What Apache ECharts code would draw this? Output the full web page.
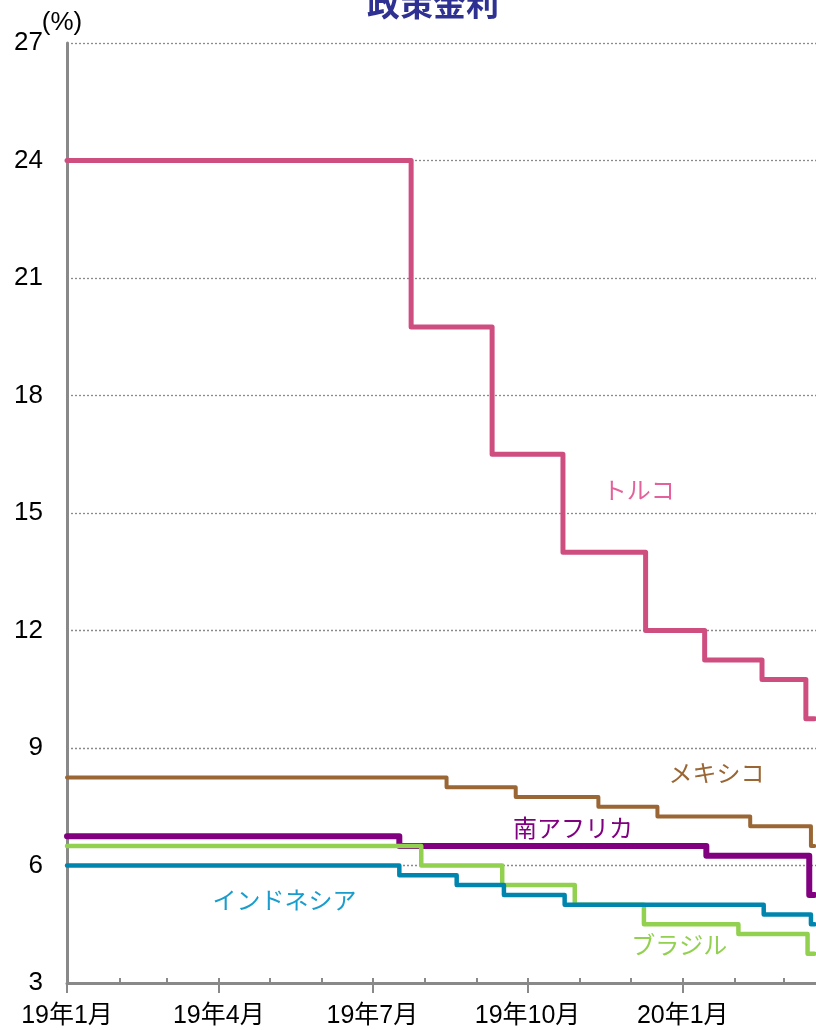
<!DOCTYPE html>
<html>
<head>
<meta charset="utf-8">
<script src="https://cdn.jsdelivr.net/npm/echarts@6/dist/echarts.min.js"></script>
<style>
  html, body { margin: 0; padding: 0; background: #fff; }
  #policy-rate { width: 816px; height: 1030px; }
</style>
</head>
<body>
<div id="policy-rate"></div>
<script>
// 政策金利（新興国）: 値が変わった日付とその日からの金利
const startDate = '2019-01-01';
const lastDate = '2020-03-19';
const axisEndDate = '2020-03-20';

const turkeyDates = ['2019-01-01', '2019-07-24', '2019-09-10', '2019-10-22', '2019-12-10', '2020-01-14', '2020-02-17', '2020-03-14'];
const turkeyRates = [24, 19.75, 16.5, 14, 12, 11.25, 10.75, 9.75];

const mexicoDates = ['2019-01-01', '2019-08-14', '2019-09-24', '2019-11-12', '2019-12-17', '2020-02-10', '2020-03-17'];
const mexicoRates = [8.25, 8.0, 7.75, 7.5, 7.25, 7.0, 6.5];

const safricaDates = ['2019-01-01', '2019-07-17', '2020-01-15', '2020-03-16'];
const safricaRates = [6.75, 6.5, 6.25, 5.25];

const brazilDates = ['2019-01-01', '2019-07-30', '2019-09-16', '2019-10-29', '2019-12-09', '2020-02-03', '2020-03-15'];
const brazilRates = [6.5, 6.0, 5.5, 5.0, 4.5, 4.25, 3.75];

const indonesiaDates = ['2019-01-01', '2019-07-17', '2019-08-20', '2019-09-17', '2019-10-23', '2020-02-18', '2020-03-17'];
const indonesiaRates = [6.0, 5.75, 5.5, 5.25, 5.0, 4.75, 4.5];

const tickDates = ['2019-01-01', '2019-04-01', '2019-07-01', '2019-10-01', '2020-01-01'];
const tickLabels = ['19年1月', '19年4月', '19年7月', '19年10月', '20年1月'];

const yTicks = [3, 6, 9, 12, 15, 18, 21, 24, 27];

// 2019/1/1 からの日数
const dayOf = (s) => {
  const [y, m, d] = s.split('-').map(Number);
  return (Date.UTC(y, m - 1, d) - Date.UTC(2019, 0, 1)) / 86400000;
};

const toSteps = (dates, rates) => {
  const pts = dates.map((d, i) => [dayOf(d), rates[i]]);
  pts.push([dayOf(lastDate), rates[rates.length - 1]]);
  return pts;
};

// 月初の目盛り
const monthTicks = [];
for (let m = 0; m <= 14; m++) {
  monthTicks.push((Date.UTC(2019, m, 1) - Date.UTC(2019, 0, 1)) / 86400000);
}
const quarterTicks = tickDates.map(dayOf);

const countries = [
  {name: 'トルコ', data: toSteps(turkeyDates, turkeyRates), color: '#CE4E80', label: '#E4629B', width: 5},
  {name: 'メキシコ', data: toSteps(mexicoDates, mexicoRates), color: '#9A6634', label: '#9A6634', width: 4},
  {name: '南アフリカ', data: toSteps(safricaDates, safricaRates), color: '#800080', label: '#800080', width: 6},
  {name: 'ブラジル', data: toSteps(brazilDates, brazilRates), color: '#92D050', label: '#92D050', width: 4.5},
  {name: 'インドネシア', data: toSteps(indonesiaDates, indonesiaRates), color: '#0086AE', label: '#1A9DCC', width: 4.5},
];

// ラベルの置き場所（日数, 金利）
const labelAnchors = {
  'トルコ': [339, 15.6],
  'メキシコ': [385, 8.36],
  '南アフリカ': [300, 6.96],
  'ブラジル': [363, 3.97],
  'インドネシア': [129, 5.12],
};

const axisGray = '#898989';
const cjkFont = '"Liberation Sans", "Noto Sans CJK JP", sans-serif';

const myChart = echarts.init(document.getElementById('policy-rate'));
const option = {
  animation: false,
  grid: {left: 67, right: 0, top: 43, bottom: 47},
  xAxis: [
    {
      type: 'value',
      min: 0,
      max: dayOf(axisEndDate),
      axisLine: {show: true, onZero: false, lineStyle: {color: axisGray, width: 3}},
      axisTick: {show: true, inside: true, length: 5, customValues: monthTicks, lineStyle: {color: axisGray, width: 2}},
      axisLabel: {
        show: true,
        customValues: quarterTicks,
        margin: 21,
        fontSize: 25,
        fontFamily: cjkFont,
        color: '#000',
        formatter: (v) => tickLabels[quarterTicks.indexOf(v)] || '',
      },
      splitLine: {show: false},
    },
    {
      type: 'value',
      position: 'bottom',
      min: 0,
      max: dayOf(axisEndDate),
      axisLine: {show: false, onZero: false},
      axisTick: {show: true, inside: false, length: 10, customValues: quarterTicks, lineStyle: {color: axisGray, width: 2}},
      axisLabel: {show: false},
      splitLine: {show: false},
    },
  ],
  yAxis: {
    type: 'value',
    min: yTicks[0],
    max: yTicks[yTicks.length - 1],
    interval: 3,
    axisLine: {show: true, lineStyle: {color: axisGray, width: 3}},
    axisTick: {show: false},
    axisLabel: {margin: 24, fontSize: 26, fontFamily: '"Liberation Sans", Arial, sans-serif', color: '#000'},
    splitLine: {show: true, lineStyle: {color: '#8a8a8a', width: 1.3, type: [2, 2]}},
  },
  series: countries.map((c) => ({
    name: c.name,
    type: 'line',
    step: 'end',
    xAxisIndex: 0,
    showSymbol: false,
    symbol: 'none',
    data: c.data,
    lineStyle: {color: c.color, width: c.width, cap: 'round', join: 'round'},
    itemStyle: {color: c.color},
  })),
};
myChart.setOption(option);

// タイトル、単位、系列名
const graphics = [
  {
    type: 'text', x: 433, y: 3,
    style: {text: '政策金利', fill: '#2E3192', font: 'bold 33px "Noto Sans CJK JP", sans-serif', align: 'center', verticalAlign: 'middle'},
  },
  {
    type: 'text', x: 62, y: 23,
    style: {text: '(%)', fill: '#000', font: '26px "Liberation Sans", Arial, sans-serif', align: 'center', verticalAlign: 'middle'},
  },
];
countries.forEach((c, i) => {
  const p = myChart.convertToPixel({seriesIndex: i}, labelAnchors[c.name]);
  graphics.push({
    type: 'text', x: p[0], y: p[1],
    style: {text: c.name, fill: c.label, font: '24px "Noto Sans CJK JP", sans-serif', align: 'center', verticalAlign: 'middle'},
  });
});
myChart.setOption({graphic: graphics});
</script>
</body>
</html>
